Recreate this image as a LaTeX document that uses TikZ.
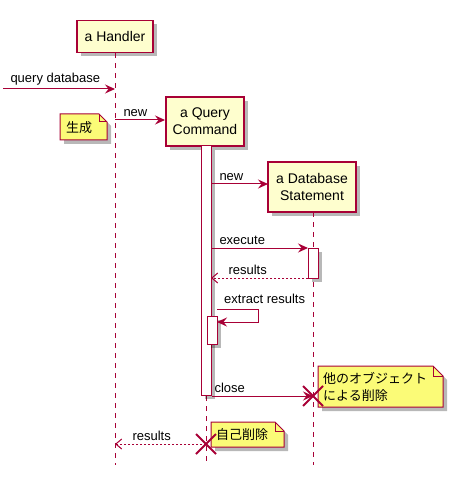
\documentclass[tikz,border=0pt]{standalone}
\usepackage{fontspec}
\setmainfont{Liberation Sans}
\newfontfamily\jpfont{Noto Sans CJK JP}
\usetikzlibrary{arrows.meta,shadows}
\definecolor{umlred}{HTML}{A80036}
\definecolor{umlbox}{HTML}{FEFECE}
\definecolor{umlnote}{HTML}{FBFB77}
\newcommand\umlnote[5]{%
  \draw[notebody] (#1,#2) -- (#3-#5,#2) -- (#3,#2+#5) -- (#3,#4) -- (#1,#4) -- cycle;
  \draw[draw=umlred,line width=1pt] (#3-#5,#2) -- (#3-#5,#2+#5) -- (#3,#2+#5);}
\begin{document}
\begin{tikzpicture}[x=1pt,y=-1pt,
  shad/.style={drop shadow={shadow xshift=4pt,shadow yshift=-4pt,fill=black,opacity=0.28}},
  participant/.style={draw=umlred,fill=umlbox,line width=1.5pt,shad,
    font=\fontsize{14}{17}\selectfont,align=center,inner sep=0pt},
  lifeline/.style={draw=umlred,line width=1pt,dash pattern=on 5pt off 5pt},
  actbar/.style={draw=umlred,fill=white,line width=1pt,shad},
  msg/.style={draw=umlred,line width=1pt,-{Stealth[length=10pt,width=9pt,inset=3.5pt]}},
  reply/.style={draw=umlred,line width=1pt,dash pattern=on 2pt off 2pt,
    -{Straight Barb[length=6pt,width=10pt,line width=1pt]}},
  lbl/.style={font=\fontsize{13}{15}\selectfont,text=black,inner sep=1pt,yshift=2pt},
  notebody/.style={draw=umlred,fill=umlnote,line width=1pt,shad},
  notetext/.style={font=\jpfont\fontsize{13}{17}\selectfont,align=left,inner sep=0pt,anchor=west},
  xmark/.style={draw=umlred,line width=2pt}
]
\useasboundingbox (0,0) rectangle (454,478);

% participants
\node[participant,minimum width=76,minimum height=32] (handler) at (115,36.5) {a Handler};
\node[participant,minimum width=78,minimum height=49] (query) at (205,121.5) {a Query\\Command};
\node[participant,minimum width=88,minimum height=50] (db) at (312,187) {a Database\\Statement};

% lifelines
\coordinate (hEnd) at (115,465);
\coordinate (qEnd) at (206,465);
\coordinate (dEnd) at (313,465);
\draw[lifeline] (handler.south) -- (hEnd);
\draw[lifeline] (206,146) -- (qEnd);
\draw[lifeline] (313,212) -- (dEnd);

% activation bars
\node[actbar,minimum width=10,minimum height=249,inner sep=0pt] (qa) at (206,270.5) {};
\node[actbar,minimum width=10,minimum height=30,inner sep=0pt] (da) at (313,263) {};
\node[actbar,minimum width=10,minimum height=28,inner sep=0pt] (qa2) at (212,330) {};

% messages
\coordinate (qin) at (3,89);
\coordinate (h89) at (115,89);
\draw[msg] (qin) -- (h89) node[lbl,pos=0,anchor=south west,xshift=6pt]{query database};

\coordinate (h120) at (115,120);
\coordinate (q120) at (165,120);
\draw[msg] (h120) -- (q120) node[lbl,pos=0,anchor=south west,xshift=7pt]{new};

\coordinate (q184) at (211,184);
\coordinate (d184) at (268,184);
\draw[msg] (q184) -- (d184) node[lbl,pos=0,anchor=south west,xshift=7pt]{new};

\coordinate (q248) at (211,248);
\coordinate (d248) at (308,248);
\draw[msg] (q248) -- (d248) node[lbl,pos=0,anchor=south west,xshift=7pt]{execute};

\coordinate (d278) at (308,278);
\coordinate (q278) at (211,278);
\draw[reply] (d278) -- (q278) node[lbl,pos=1,anchor=south west,xshift=16pt]{results};

\coordinate (s1) at (217,309);
\coordinate (s2) at (258,309);
\coordinate (s3) at (258,322);
\coordinate (s4) at (217,322);
\draw[msg] (s1) -- (s2) -- (s3) -- (s4);
\node[lbl,anchor=south west] at (223,307) {extract results};

% notes
\umlnote{60}{114}{107}{140}{8}
\node[notetext] (n1) at (66,128) {生成};
\umlnote{318}{366}{443}{407}{10}
\node[notetext] (n2) at (323,387) {他のオブジェクト\\による削除};
\umlnote{211}{422}{284}{447}{9}
\node[notetext] (n3) at (216,435) {自己削除};

% close and destroy
\coordinate (q396) at (212,396);
\coordinate (dX) at (313,396);
\draw[msg] (q396) -- (dX) node[lbl,pos=0,anchor=south west,xshift=1pt]{close};
\draw[xmark] (303,386) -- (323,406) (303,406) -- (323,386);

\coordinate (qX) at (206,444);
\coordinate (h444) at (115,444);
\draw[reply] (qX) -- (h444) node[lbl,pos=1,anchor=south west,xshift=16pt]{results};
\draw[xmark] (196,434) -- (216,454) (196,454) -- (216,434);
\end{tikzpicture}
\end{document}
